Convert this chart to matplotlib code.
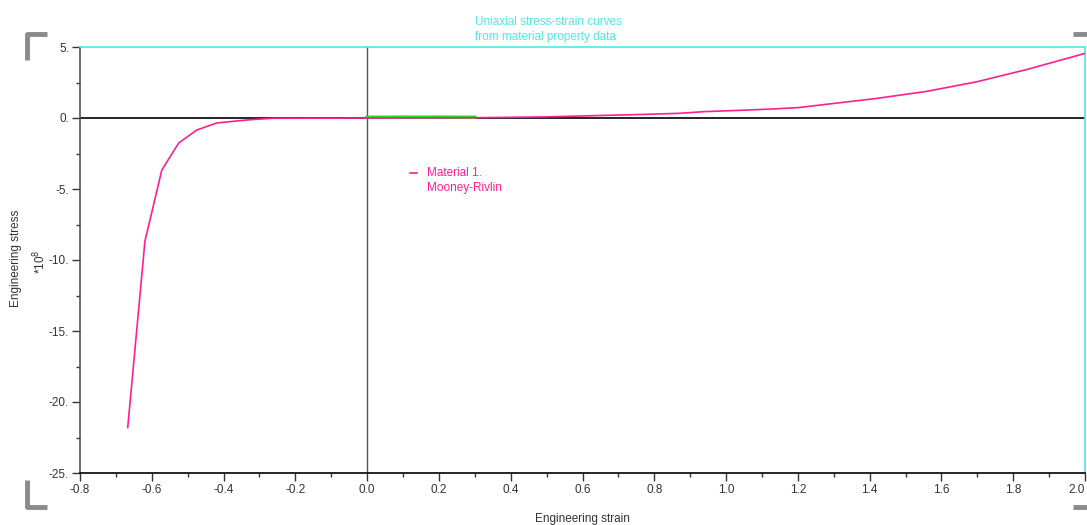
import numpy as np
import matplotlib
matplotlib.use("Agg")
from matplotlib import pyplot as plt
from matplotlib.ticker import MultipleLocator

# curve (stress in units of 1e8)
strain = [-0.667, -0.619, -0.572, -0.525, -0.475, -0.419, -0.336, -0.264,
          0.0, 0.30, 0.50, 0.64, 0.78, 0.87, 0.94, 1.06, 1.14, 1.20,
          1.42, 1.56, 1.70, 1.84, 2.00]
stress = [-21.8, -8.66, -3.66, -1.76, -0.85, -0.35, -0.14, -0.02,
          0.0, 0.02, 0.08, 0.17, 0.26, 0.33, 0.45, 0.56, 0.65, 0.73,
          1.38, 1.88, 2.56, 3.43, 4.55]

# green test data along zero
test_strain = [0.0, 0.05, 0.10, 0.15, 0.20, 0.25, 0.30]
test_stress = [0.05, 0.05, 0.06, 0.05, 0.06, 0.05, 0.05]

xticks = [-0.8, -0.6, -0.4, -0.2, 0.0, 0.2, 0.4, 0.6, 0.8, 1.0, 1.2, 1.4, 1.6, 1.8, 2.0]
yticks = [5, 0, -5, -10, -15, -20, -25]

pink = "#ff1f8f"
cyan = "#4fe8ec"
gray = "#555555"

plt.rcParams['font.family'] = ['Liberation Sans', 'DejaVu Sans']

W, H = 1087, 525
fig = plt.figure(figsize=(W / 100, H / 100), dpi=100)
ax = fig.add_axes([80 / W, 1 - 473 / H, (1085 - 80) / W, (473 - 47) / H])

ax.set_xlim(-0.8, 2.0)
ax.set_ylim(-25, 5)

ax.axhline(0, color="black", lw=1.2, zorder=2)
ax.axvline(0, color=gray, lw=1.0, zorder=2)
ax.plot(test_strain, test_stress, color="#22dd22", lw=2.5, zorder=3)
ax.plot(strain, stress, color=pink, lw=1.2, zorder=4)

for s in ["top", "right"]:
    ax.spines[s].set_color(cyan)
    ax.spines[s].set_linewidth(1.2)
ax.spines["left"].set_color(gray)
ax.spines["bottom"].set_color("black")
ax.spines["left"].set_linewidth(1.2)
ax.spines["bottom"].set_linewidth(1.2)

ax.set_xticks(xticks)
ax.set_xticklabels(["%.1f" % v for v in xticks])
ax.set_yticks(yticks)
ax.set_yticklabels(["%d." % v for v in yticks])
ax.xaxis.set_minor_locator(MultipleLocator(0.1))
ax.yaxis.set_minor_locator(MultipleLocator(2.5))
ax.tick_params(axis="both", which="major", labelsize=8.5, colors="#333333",
               direction="out", length=6, width=1, pad=2)
ax.tick_params(axis="both", which="minor", direction="out", length=3, width=1,
               colors="#333333")
ax.xaxis.set_tick_params(which="both", top=False)
ax.yaxis.set_tick_params(which="both", right=False)
# last label sits at the right edge of the figure
ax.get_xticklabels()[-1].set_horizontalalignment("right")

fig.text(582 / W, 1 - 519 / H, "Engineering strain", ha="center", va="center",
         fontsize=8.5, color="#333333")
fig.text(16 / W, 1 - 258 / H, "Engineering stress", ha="center", va="center",
         rotation=90, fontsize=8.5, color="#333333")
fig.text(40 / W, 1 - 262 / H, r"*10$^{8}$", ha="center", va="center",
         rotation=90, fontsize=8.5, color="#333333")

fig.text(475 / W, 1 - 22 / H, "Uniaxial stress-strain curves", ha="left",
         va="center", fontsize=8.5, color=cyan)
fig.text(475 / W, 1 - 37 / H, "from material property data", ha="left",
         va="center", fontsize=8.5, color=cyan)

# legend entry
fig.add_artist(plt.Line2D([410 / W, 417 / W], [1 - 173 / H, 1 - 173 / H],
                          color=pink, lw=1.2))
fig.text(427 / W, 1 - 173 / H, "Material 1.", ha="left", va="center",
         fontsize=8.5, color=pink)
fig.text(427 / W, 1 - 188 / H, "Mooney-Rivlin", ha="left", va="center",
         fontsize=8.5, color=pink)

# gray corner marks
cm = "#8a8a8a"
for xs, ys in [([27, 27, 47], [60, 34, 34]), ([27, 27, 47], [480, 507, 507]),
               ([1073, 1087], [507, 507]), ([1073, 1087], [34, 34])]:
    fig.add_artist(plt.Line2D([x / W for x in xs], [1 - y / H for y in ys],
                              color=cm, lw=3.5, solid_capstyle="butt"))

fig.savefig("out.png", dpi=100)
